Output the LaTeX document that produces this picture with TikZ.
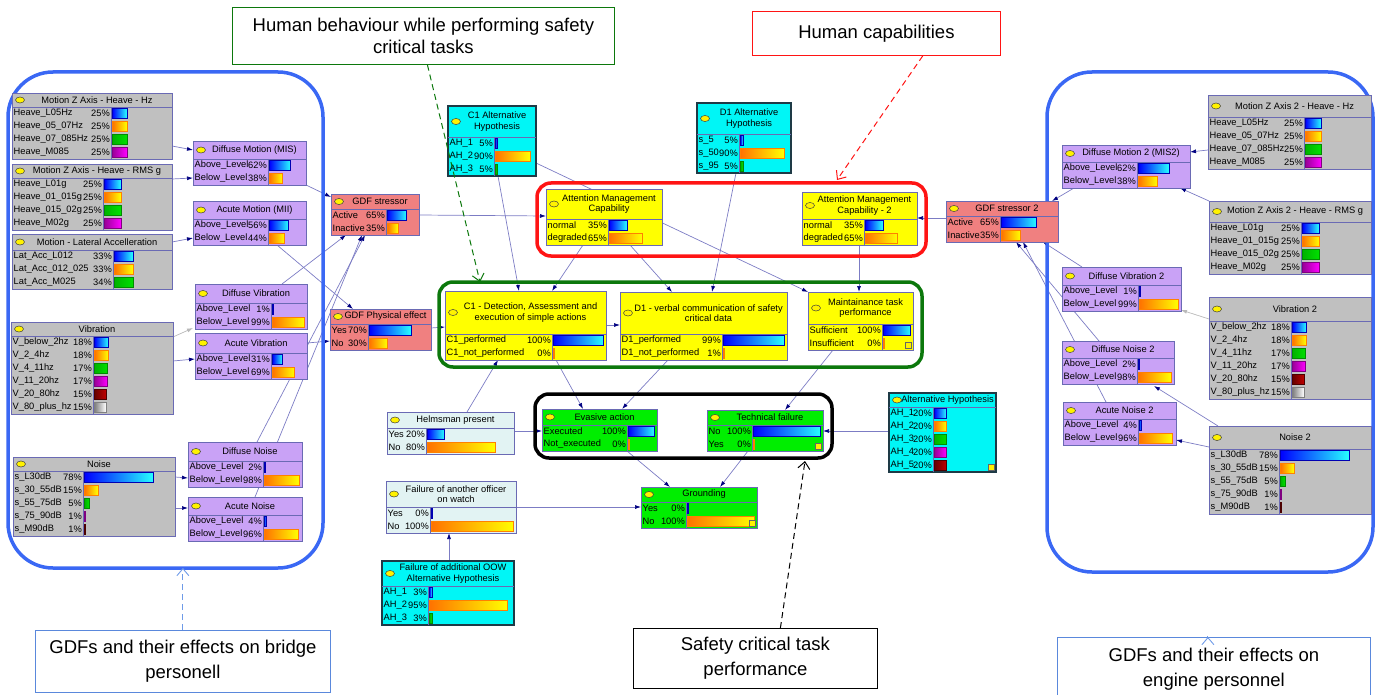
\documentclass[tikz,border=0pt]{standalone}
\usepackage{fontspec}
\setmainfont{Liberation Sans}
\usetikzlibrary{arrows.meta,positioning,shapes.geometric,calc,backgrounds}
\definecolor{Gy}{HTML}{C0C0C0}
\definecolor{Pu}{HTML}{C9A2F6}
\definecolor{Sa}{HTML}{F08080}
\definecolor{Cy}{HTML}{00F6F6}
\definecolor{Ye}{HTML}{FFFF00}
\definecolor{Gn}{HTML}{00EE00}
\definecolor{Lb}{HTML}{E2F3F3}
\definecolor{Nb}{HTML}{6A6AB4}
\definecolor{Dk}{HTML}{1E3A46}
\definecolor{Ec}{HTML}{7C7CC4}
\definecolor{Ah}{HTML}{000080}
\definecolor{Bf}{HTML}{3A68F4}
\definecolor{Gf}{HTML}{0C780C}
\definecolor{Rf}{HTML}{FF1414}
\definecolor{Lf}{HTML}{5A88DC}
\definecolor{Lh}{HTML}{6F9BE8}
\newcommand{\bnfont}{\fontsize{9.3}{10.5}\selectfont}
\tikzset{
  bnbox/.style={rectangle, draw=Nb, line width=0.8pt, inner sep=0pt, outer sep=0pt, anchor=north west},
  bnline/.style={draw=Nb, line width=0.7pt},
  bnhead/.style={font=\bnfont, align=center, inner sep=0pt},
  bncell/.style={font=\bnfont, inner sep=0pt},
  bulb/.style={ellipse, draw=black!75, fill=yellow, line width=0.5pt, minimum width=9pt, minimum height=6pt, inner sep=0pt},
  bar1/.style={left color=blue, right color=cyan!85!white, draw=blue!70!black, line width=0.3pt},
  bar2/.style={left color=orange!90!red, right color=yellow, draw=orange, line width=0.3pt},
  bar3/.style={left color=green!70!black, right color=green!88!black, draw=green!55!black, line width=0.3pt},
  bar4/.style={left color=violet!80!magenta, right color=magenta, draw=violet, line width=0.3pt},
  bar5/.style={left color=red!40!black, right color=red!75!black, draw=red!30!black, line width=0.3pt},
  bar6/.style={left color=gray, right color=white, draw=gray, line width=0.3pt},
  link/.style={draw=Ec, line width=0.7pt, -{Latex[length=6pt, width=4pt, color=Ah]}},
  glink/.style={draw=gray!55, line width=0.7pt, -{Latex[length=6pt, width=4pt, color=gray!55]}},
  grp/.style={rectangle, rounded corners=14pt, line width=3.5pt, inner sep=0pt, outer sep=0pt, anchor=north west},
  note/.style={rectangle, line width=0.8pt, font=\fontsize{18.5}{22}\selectfont, align=center, anchor=north west, inner sep=0pt},
  lnote/.style={note, font=\fontsize{18.5}{25}\selectfont},
  hint/.style={dash pattern=on 6pt off 4pt, line width=1pt, -{Straight Barb[length=7pt, width=12pt]}},
}
% #1 name, #2 left, #3 top, #4 width, #5 label column, #6 title height, #7 look, #8 title, #9 states
\newcommand{\bnet}[9]{%
  \foreach \stname/\stpct [count=\k] in {#9} {\xdef\bnrows{\k}}
  \pgfmathsetmacro{\bnh}{#6+13*\bnrows}
  \node[bnbox, #7, minimum width=#4, minimum height=\bnh] (#1) at (#2,#3) {};
  \draw[bnline] ($(#1.north west)+(0,#6)$) -- ++(#4,0);
  \draw[bnline] ($(#1.north west)+(#5,#6)$) -- ($(#1.south west)+(#5,0)$);
  \node[bulb] at ($(#1.north west)+(8,#6/2)$) {};
  \node[bnhead] at ($(#1.north west)+(#4/2+5,#6/2)$) {#8};
  \foreach \stname/\stpct [count=\k] in {#9} {
    \node[bncell, anchor=west] at ($(#1.north west)+(1.5,#6+13*\k-6.5)$) {\stname};
    \node[bncell, anchor=east] at ($(#1.north west)+(#5-1,#6+13*\k-6.5)$) {\stpct\%};
    \pgfmathsetmacro{\bw}{max(1,\stpct*(#4-#5-4)/100)}
    \path[bar\k] ($(#1.north west)+(#5+1.5,#6+13*\k-11.5)$) rectangle ++(\bw,10);
  }
}

\begin{document}
\begin{tikzpicture}[x=1pt, y=-1pt]
  \useasboundingbox (0,0) rectangle (1380,695);
  % bridge personnel
  \bnet{mzhz}{12}{93}{160}{99}{14}{fill=Gy}{Motion Z Axis - Heave - Hz}{Heave\_L05Hz/25, Heave\_05\_07Hz/25, Heave\_07\_085Hz/25, Heave\_M085/25}
  \bnet{mzrms}{12}{164}{160}{91}{14}{fill=Gy}{Motion Z Axis - Heave - RMS g}{Heave\_L01g/25, Heave\_01\_015g/25, Heave\_015\_02g/25, Heave\_M02g/25}
  \bnet{mlat}{12}{234}{160}{101}{16}{fill=Gy}{Motion - Lateral Accelleration}{Lat\_Acc\_L012/33, Lat\_Acc\_012\_025/33, Lat\_Acc\_M025/34}
  \bnet{dmis}{193}{141}{113}{75}{18}{fill=Pu}{Diffuse Motion (MIS)}{Above\_Level/62, Below\_Level/38}
  \bnet{amii}{193}{201}{113}{75}{18}{fill=Pu}{Acute Motion (MII)}{Above\_Level/56, Below\_Level/44}
  \bnet{dvib}{195}{284}{112}{76}{19}{fill=Pu}{Diffuse Vibration}{Above\_Level/1, Below\_Level/99}
  \bnet{avib}{195}{333}{112}{76}{20}{fill=Pu}{Acute Vibration}{Above\_Level/31, Below\_Level/69}
  \bnet{vib}{11}{322}{162}{82}{14}{fill=Gy}{Vibration}{V\_below\_2hz/18, V\_2\_4hz/18, V\_4\_11hz/17, V\_11\_20hz/17, V\_20\_80hz/15, V\_80\_plus\_hz/15}
  \bnet{dnoi}{188}{442}{114}{75}{19}{fill=Pu}{Diffuse Noise}{Above\_Level/2, Below\_Level/98}
  \bnet{anoi}{188}{497}{114}{75}{18}{fill=Pu}{Acute Noise}{Above\_Level/4, Below\_Level/96}
  \bnet{noi}{13}{457}{162}{70}{14}{fill=Gy}{Noise}{s\_L30dB/78, s\_30\_55dB/15, s\_55\_75dB/5, s\_75\_90dB/1, s\_M90dB/1}
  % tasks
  \bnet{gdfs}{331}{194}{88}{55}{15}{fill=Sa}{GDF stressor}{Active/65, Inactive/35}
  \bnet{gdfp}{330}{309}{101}{38}{15}{fill=Sa}{GDF Physical effect}{Yes/70, No/30}
  \bnet{c1ah}{448}{106}{88}{46}{31}{fill=Cy, draw=Dk, line width=1.2pt}{C1 Alternative\\Hypothesis}{AH\_1/5, AH\_2/90, AH\_3/5}
  \bnet{amc}{546}{189}{116}{62}{30}{fill=Ye}{Attention Management\\Capability}{normal/35, degraded/65}
  \bnet{c1}{445}{291}{161}{107}{43}{fill=Ye}{C1 - Detection, Assessment and\\execution of simple actions}{C1\_performed/100, C1\_not\_performed/0}
  \bnet{d1ah}{697}{103}{94}{42}{31}{fill=Cy, draw=Dk, line width=1.2pt}{D1 Alternative\\Hypothesis}{s\_5/5, s\_50/90, s\_95/5}
  \bnet{amc2}{802}{192}{115}{62}{27}{fill=Ye}{Attention Management\\Capability - 2}{normal/35, degraded/65}
  \bnet{d1}{620}{292}{167}{102}{42}{fill=Ye}{D1 - verbal communication of safety\\critical data}{D1\_performed/99, D1\_not\_performed/1}
  \bnet{mtp}{808}{292}{105}{74}{32}{fill=Ye}{Maintainance task\\performance}{Sufficient/100, Insufficient/0}
  \bnet{helm}{387}{412}{127}{39}{16}{fill=Lb}{Helmsman present}{Yes/20, No/80}
  \bnet{evas}{542}{409}{115}{85}{16}{fill=Gn}{Evasive action}{Executed/100, Not\_executed/0}
  \bnet{tech}{707}{410}{116}{45}{15}{fill=Gn}{Technical failure}{No/100, Yes/0}
  \bnet{grnd}{641}{487}{116}{45}{15}{fill=Gn}{Grounding}{Yes/0, No/100}
  \bnet{ah}{889}{393}{107}{44}{14}{fill=Cy, draw=Dk, line width=1.2pt}{Alternative Hypothesis}{AH\_1/20, AH\_2/20, AH\_3/20, AH\_4/20, AH\_5/20}
  \bnet{foff}{386}{481}{130}{44}{26}{fill=Lb}{Failure of another officer\\on watch}{Yes/0, No/100}
  \bnet{foow}{382}{561}{132}{46}{25}{fill=Cy, draw=Dk, line width=1.2pt}{Failure of additional OOW\\Alternative Hypothesis}{AH\_1/3, AH\_2/95, AH\_3/3}
  % engine personnel
  \bnet{gdfs2}{946}{201}{112}{54}{15}{fill=Sa}{GDF stressor 2}{Active/65, Inactive/35}
  \bnet{dmis2}{1062}{145}{128}{75}{17}{fill=Pu}{Diffuse Motion 2 (MIS2)}{Above\_Level/62, Below\_Level/38}
  \bnet{mzhz2}{1208}{95}{163}{96}{22}{fill=Gy}{Motion Z Axis 2 - Heave - Hz}{Heave\_L05Hz/25, Heave\_05\_07Hz/25, Heave\_07\_085Hz/25, Heave\_M085/25}
  \bnet{mzrms2}{1209}{201}{162}{92}{21}{fill=Gy}{Motion Z Axis 2 - Heave - RMS g}{Heave\_L01g/25, Heave\_01\_015g/25, Heave\_015\_02g/25, Heave\_M02g/25}
  \bnet{dvib2}{1062}{267}{119}{76}{18}{fill=Pu}{Diffuse Vibration 2}{Above\_Level/1, Below\_Level/99}
  \bnet{vib2}{1209}{297}{162}{82}{24}{fill=Gy}{Vibration 2}{V\_below\_2hz/18, V\_2\_4hz/18, V\_4\_11hz/17, V\_11\_20hz/17, V\_20\_80hz/15, V\_80\_plus\_hz/15}
  \bnet{dnoi2}{1062}{341}{112}{75}{17}{fill=Pu}{Diffuse Noise 2}{Above\_Level/2, Below\_Level/98}
  \bnet{anoi2}{1063}{402}{113}{75}{17}{fill=Pu}{Acute Noise 2}{Above\_Level/4, Below\_Level/96}
  \bnet{noi2}{1209}{426}{162}{70}{23}{fill=Gy}{Noise 2}{s\_L30dB/78, s\_30\_55dB/15, s\_55\_75dB/5, s\_75\_90dB/1, s\_M90dB/1}
  \foreach \n in {mtp,tech,grnd,ah} {\draw[fill=yellow, draw=black!60, line width=0.4pt] ($(\n.south east)+(-8,-8)$) rectangle ++(6,6);}

  \begin{scope}[on background layer]
    \draw[link] ($(mzhz.north east)+(0,53)$) -- ($(dmis.north west)+(0,9)$);
    \draw[link] ($(mzrms.north east)+(0,15)$) -- ($(dmis.north west)+(0,37)$);
    \draw[link] ($(mlat.north east)+(0,8)$) -- ($(amii.north west)+(0,37)$);
    \draw[glink] ($(vib.north east)+(0,15)$) -- ($(dvib.north west)+(-2,44)$);
    \draw[link] ($(vib.north east)+(0,39)$) -- ($(avib.north west)+(0,26)$);
    \draw[link] ($(noi.north east)+(0,20)$) -- ($(dnoi.north west)+(0,36)$);
    \draw[link] ($(noi.north east)+(0,51)$) -- ($(anoi.north west)+(0,11)$);
    \draw[link] (dmis.south east) -- ($(gdfs.north west)+(0,3)$);
    \draw[link] ($(amii.south west)+(84,0)$) -- ($(gdfp.north west)+(23,0)$);
    \draw[link] ($(dvib.north west)+(87,0)$) -- ($(gdfs.south west)+(15,0)$);
    \draw[link] ($(avib.north east)+(0,10)$) -- ($(gdfp.north west)+(0,32)$);
    \draw[link] ($(dnoi.north west)+(69,0)$) -- ($(gdfs.south west)+(34,0)$);
    \draw[link] ($(anoi.north west)+(67,0)$) -- ($(gdfs.south west)+(31,0)$);
    \draw[link] ($(gdfs.north east)+(0,21)$) -- ($(amc.north west)+(0,27)$);
    \draw[link] ($(gdfp.north east)+(0,19)$) -- ($(c1.north west)+(0,36)$);
    \draw[link] ($(c1ah.south west)+(50,0)$) -- ($(c1.north west)+(74,0)$);
    \draw[link] ($(c1ah.north east)+(0,57)$) -- (mtp.north west);
    \draw[link] ($(amc.south west)+(37,0)$) -- ($(c1.north west)+(107,0)$);
    \draw[link] ($(amc.south west)+(84,0)$) -- ($(d1.north west)+(52,0)$);
    \draw[link] ($(d1ah.south west)+(39,0)$) -- ($(d1.north west)+(92,0)$);
    \draw[link] ($(amc2.south west)+(57,0)$) -- ($(mtp.north west)+(51,0)$);
    \draw[link] ($(c1.north east)+(0,34)$) -- ($(d1.north west)+(0,33)$);
    \draw[link] ($(c1.south west)+(111,0)$) -- ($(evas.north west)+(41,0)$);
    \draw[link] ($(d1.south west)+(48,0)$) -- ($(evas.north west)+(80,0)$);
    \draw[link] ($(mtp.south west)+(25,0)$) -- ($(tech.north west)+(78,0)$);
    \draw[link] ($(helm.north west)+(80,0)$) -- ($(c1.south west)+(53,0)$);
    \draw[link] ($(helm.north east)+(0,19)$) -- ($(evas.north west)+(0,22)$);
    \draw[link] ($(evas.south west)+(85,0)$) -- ($(grnd.north west)+(29,0)$);
    \draw[link] ($(tech.south west)+(41,0)$) -- ($(grnd.north west)+(79,0)$);
    \draw[link] ($(foff.north east)+(0,26)$) -- ($(grnd.north west)+(0,20)$);
    \draw[link] ($(foow.north west)+(67,0)$) -- ($(foff.south west)+(63,0)$);
    \draw[link] ($(ah.north west)+(0,38)$) -- ($(tech.north east)+(0,21)$);
    \draw[link] ($(gdfs2.north west)+(0,17)$) -- ($(amc2.north east)+(0,26)$);
    \draw[link] ($(dmis2.south west)+(12,0)$) -- ($(gdfs2.north east)+(-6,0)$);
    \draw[link] ($(mzhz2.north west)+(0,55)$) -- ($(dmis2.north east)+(0,7)$);
    \draw[link] (mzrms2.north west) -- ($(dmis2.south east)+(-10,0)$);
    \draw[link] ($(dvib2.north west)+(20,0)$) -- ($(gdfs2.south east)+(-15,0)$);
    \draw[link] ($(dnoi2.north west)+(37,0)$) -- ($(gdfs2.south west)+(70,0)$);
    \draw[link] ($(anoi2.north west)+(43,0)$) -- ($(gdfs2.south west)+(77,0)$);
    \draw[glink] ($(vib2.north west)+(0,22)$) -- ($(dvib2.south east)+(0,-1)$);
    \draw[link] ($(noi2.north west)+(9,0)$) -- ($(dnoi2.south east)+(-20,2)$);
    \draw[link] ($(noi2.north west)+(0,21)$) -- ($(anoi2.north east)+(0,38)$);
    % groups
    \node[grp, draw=Bf, rounded corners=45pt, minimum width=315, minimum height=496] (lgrp) at (8,72) {};
    \node[grp, draw=Bf, rounded corners=45pt, minimum width=326, minimum height=500] (rgrp) at (1047,72) {};
    \node[grp, draw=Rf, minimum width=389, minimum height=73] (rcap) at (537,183) {};
    \node[grp, draw=Gf, minimum width=483, minimum height=85] (gtask) at (439,282) {};
    \node[grp, draw=black, minimum width=297, minimum height=64] (btask) at (535,394) {};
  \end{scope}

  \node[note, draw=Gf, minimum width=382, minimum height=57] (hbeh) at (232,7) {Human behaviour while performing safety\\critical tasks};
  \node[note, draw=Rf, minimum width=248, minimum height=44] (hcap) at (752,11) {Human capabilities};
  \node[lnote, draw=black, minimum width=244, minimum height=60] (sctp) at (633,628) {Safety critical task\\performance};
  \node[lnote, draw=Lf, minimum width=295, minimum height=62] (lbl) at (35,630) {GDFs and their effects on bridge\\personell};
  \node[lnote, draw=Lf, minimum width=313, minimum height=64] (rbl) at (1057,637) {GDFs and their effects on\\engine personnel};
  \draw[hint, Gf] ($(hbeh.south)+(4,0)$) -- ($(gtask.north west)+(41,0)$);
  \draw[hint, Rf] ($(hcap.south east)+(-78,0)$) -- ($(rcap.north west)+(300,-3)$);
  \draw[hint, black] ($(sctp.north)+(25,0)$) -- ($(btask.south east)+(-27,3)$);
  \draw[hint, Lh, line width=0.9pt] (lbl.north) -- (lbl.north |- lgrp.south);
  \draw[hint, Lh, line width=0.9pt] ($(rbl.north)+(-6,0)$) -- ($(rbl.north)+(-6,0)$ |- rgrp.south);
\end{tikzpicture}
\end{document}
